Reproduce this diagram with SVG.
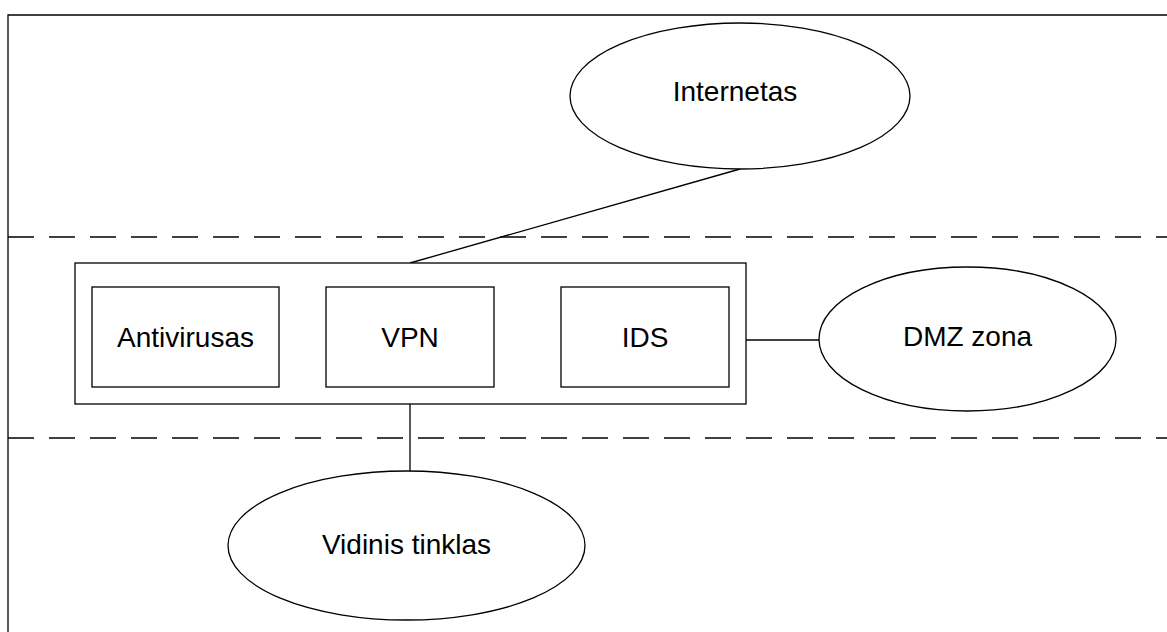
<svg xmlns="http://www.w3.org/2000/svg" width="1167" height="632" viewBox="0 0 1167 632">
<style>
.s{fill:#fff;stroke:#000;stroke-width:1.3}
.l{stroke:#000;stroke-width:1.3;fill:none}
.d{stroke:#000;stroke-width:1.3;fill:none;stroke-dasharray:26 15}
.t{font-family:"Liberation Sans",Arial,sans-serif;font-size:28px;fill:#000;text-anchor:middle}
</style>
<rect width="1167" height="632" fill="#fff"/>
<g id="frame">
<path class="l" d="M8,632 V15 H1167"/>
</g>
<g id="zones">
<line class="d" x1="8" y1="237" x2="1167" y2="237"/>
<line class="d" x1="8" y1="438" x2="1167" y2="438"/>
</g>
<g id="connectors">
<line class="l" x1="740" y1="169" x2="410" y2="263"/>
<line class="l" x1="746" y1="340" x2="819" y2="340"/>
<line class="l" x1="410" y1="404" x2="410" y2="471"/>
</g>
<g id="firewall">
<rect class="s" x="75" y="263" width="671" height="141"/>
</g>
<g id="antivirusas">
<rect class="s" x="92" y="287" width="187" height="100"/>
<text class="t" x="185.5" y="347">Antivirusas</text>
</g>
<g id="vpn">
<rect class="s" x="326" y="287" width="168" height="100"/>
<text class="t" x="410" y="347">VPN</text>
</g>
<g id="ids">
<rect class="s" x="561" y="287" width="168" height="100"/>
<text class="t" x="645" y="347">IDS</text>
</g>
<g id="internetas">
<ellipse class="s" cx="740" cy="96" rx="170" ry="73"/>
<text class="t" x="735" y="101">Internetas</text>
</g>
<g id="dmz">
<ellipse class="s" cx="967.5" cy="339" rx="148.5" ry="72"/>
<text class="t" x="967.5" y="346">DMZ zona</text>
</g>
<g id="vidinis">
<ellipse class="s" cx="406.5" cy="545.5" rx="178.5" ry="74.5"/>
<text class="t" x="406.5" y="554">Vidinis tinklas</text>
</g>
</svg>
